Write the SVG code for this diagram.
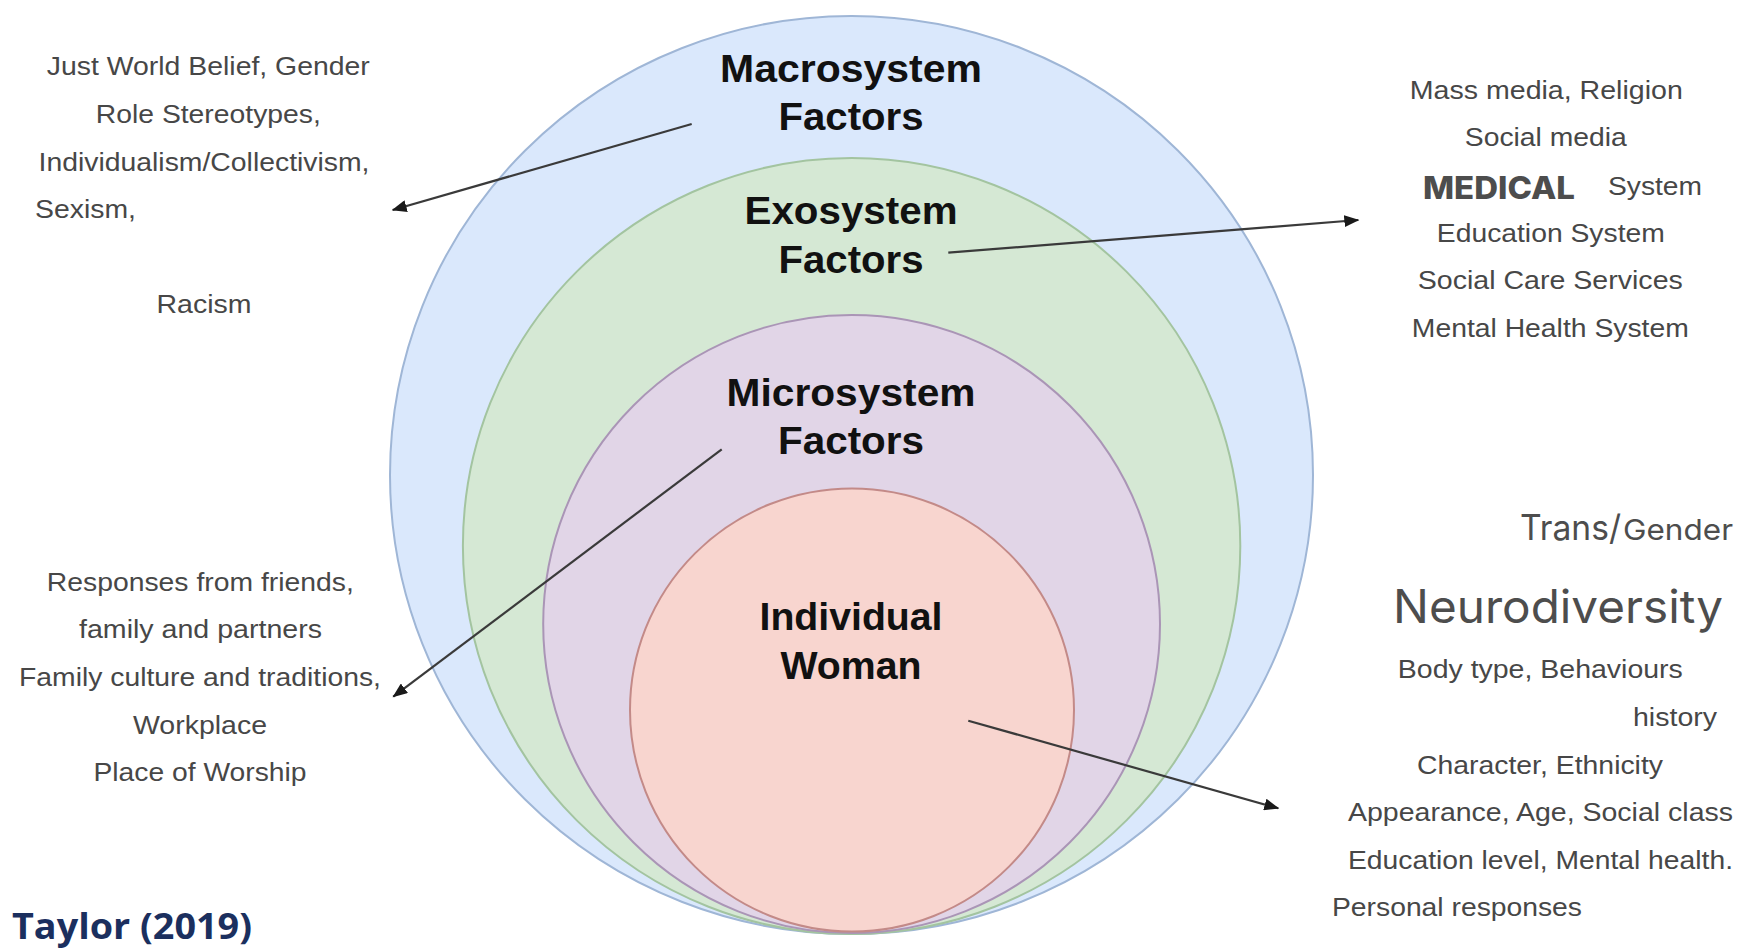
<svg xmlns="http://www.w3.org/2000/svg" width="1749" height="948" viewBox="0 0 1749 948">
<defs>
<style>
.lbl{font-family:"Liberation Sans",Arial,sans-serif;font-weight:bold;font-size:38px;fill:#111;text-anchor:middle}
.g{font-family:"Liberation Sans",Arial,sans-serif;font-size:25px;fill:#474747}
.m{text-anchor:middle}
.in{font-family:Inter,"Noto Sans",sans-serif;fill:#4d4d4d}
.conn{stroke:#3a3a3a;stroke-width:2.2;fill:none;marker-end:url(#ah)}
</style>
<marker id="ah" markerUnits="userSpaceOnUse" markerWidth="16" markerHeight="12" refX="14" refY="6" orient="auto">
<path d="M0,0 L15,6 L0,12 Z" fill="#1a1a1a"/>
</marker>
</defs>
<rect width="1749" height="948" fill="#fff"/>

<g id="macro">
<ellipse cx="851.5" cy="475" rx="461.5" ry="459" fill="#dae8fc" stroke="#9fb6d6" stroke-width="2"/>
<text class="lbl" x="851" y="82" textLength="262" lengthAdjust="spacingAndGlyphs">Macrosystem</text>
<text class="lbl" x="851" y="130" textLength="145" lengthAdjust="spacingAndGlyphs">Factors</text>
</g>
<g id="exo">
<ellipse cx="851.6" cy="546" rx="388.7" ry="388" fill="#d5e8d4" stroke="#a3c4a0" stroke-width="2"/>
<text class="lbl" x="851" y="224" textLength="213" lengthAdjust="spacingAndGlyphs">Exosystem</text>
<text class="lbl" x="851" y="273" textLength="145" lengthAdjust="spacingAndGlyphs">Factors</text>
</g>
<g id="micro">
<ellipse cx="851.6" cy="624" rx="308.4" ry="309" fill="#e1d5e7" stroke="#aa95b6" stroke-width="2"/>
<text class="lbl" x="851" y="406" textLength="249" lengthAdjust="spacingAndGlyphs">Microsystem</text>
<text class="lbl" x="851" y="454" textLength="146" lengthAdjust="spacingAndGlyphs">Factors</text>
</g>
<g id="individual">
<ellipse cx="852" cy="710" rx="222" ry="221.5" fill="#f8d5cf" stroke="#c38a88" stroke-width="2"/>
<text class="lbl" x="851" y="630" textLength="183" lengthAdjust="spacingAndGlyphs">Individual</text>
<text class="lbl" x="851" y="679" textLength="141" lengthAdjust="spacingAndGlyphs">Woman</text>
</g>

<g id="connectors">
<line class="conn" x1="691.7" y1="124" x2="392.7" y2="210"/>
<line class="conn" x1="948.3" y1="252.7" x2="1358.3" y2="220"/>
<line class="conn" x1="721.7" y1="449.3" x2="393.3" y2="696.7"/>
<line class="conn" x1="968.3" y1="720.7" x2="1278.3" y2="808.3"/>
</g>

<g id="macro-factors">
<text class="g m" x="208.3" y="75" textLength="323" lengthAdjust="spacingAndGlyphs">Just World Belief, Gender</text>
<text class="g m" x="208.3" y="123" textLength="225" lengthAdjust="spacingAndGlyphs">Role Stereotypes,</text>
<text class="g m" x="204" y="171" textLength="331" lengthAdjust="spacingAndGlyphs">Individualism/Collectivism,</text>
<text class="g" x="35" y="218" textLength="101" lengthAdjust="spacingAndGlyphs">Sexism,</text>
<text class="g m" x="204" y="313" textLength="95" lengthAdjust="spacingAndGlyphs">Racism</text>
</g>

<g id="micro-factors">
<text class="g m" x="200.3" y="591" textLength="307" lengthAdjust="spacingAndGlyphs">Responses from friends,</text>
<text class="g m" x="200.5" y="638" textLength="243" lengthAdjust="spacingAndGlyphs">family and partners</text>
<text class="g m" x="200" y="686" textLength="362" lengthAdjust="spacingAndGlyphs">Family culture and traditions,</text>
<text class="g m" x="200" y="734" textLength="134" lengthAdjust="spacingAndGlyphs">Workplace</text>
<text class="g m" x="200" y="781" textLength="213" lengthAdjust="spacingAndGlyphs">Place of Worship</text>
</g>

<g id="exo-factors">
<text class="g m" x="1546.3" y="99" textLength="273" lengthAdjust="spacingAndGlyphs">Mass media, Religion</text>
<text class="g m" x="1545.8" y="146" textLength="162" lengthAdjust="spacingAndGlyphs">Social media</text>
<text class="in" x="1423" y="199" font-size="31" font-weight="800" fill="#555" textLength="152" lengthAdjust="spacingAndGlyphs">MEDICAL</text>
<text class="g" x="1608" y="195" textLength="94" lengthAdjust="spacingAndGlyphs">System</text>
<text class="g m" x="1550.8" y="242" textLength="228" lengthAdjust="spacingAndGlyphs">Education System</text>
<text class="g m" x="1550.3" y="289" textLength="265" lengthAdjust="spacingAndGlyphs">Social Care Services</text>
<text class="g m" x="1550.3" y="337" textLength="277" lengthAdjust="spacingAndGlyphs">Mental Health System</text>
</g>

<g id="individual-factors">
<text class="in" x="1520" y="540" font-size="35" textLength="101" lengthAdjust="spacingAndGlyphs">Trans/</text>
<text class="in" x="1623" y="540" font-size="29" textLength="110" lengthAdjust="spacingAndGlyphs">Gender</text>
<text class="in" x="1393" y="623" font-size="46" textLength="330" lengthAdjust="spacingAndGlyphs">Neurodiversity</text>
<text class="g m" x="1540.3" y="678" textLength="285" lengthAdjust="spacingAndGlyphs">Body type, Behaviours</text>
<text class="g" x="1633" y="726" textLength="84" lengthAdjust="spacingAndGlyphs">history</text>
<text class="g m" x="1540" y="774" textLength="246" lengthAdjust="spacingAndGlyphs">Character, Ethnicity</text>
<text class="g m" x="1540.5" y="821" textLength="385" lengthAdjust="spacingAndGlyphs">Appearance, Age, Social class</text>
<text class="g m" x="1540.5" y="869" textLength="385" lengthAdjust="spacingAndGlyphs">Education level, Mental health.</text>
<text class="g" x="1332" y="916" textLength="250" lengthAdjust="spacingAndGlyphs">Personal responses</text>
</g>

<g id="citation">
<text x="12" y="939" font-family="'Open Sans','Liberation Sans',sans-serif" font-weight="bold" font-size="35" fill="#1b2f5e" textLength="240" lengthAdjust="spacingAndGlyphs">Taylor (2019)</text>
</g>
</svg>
